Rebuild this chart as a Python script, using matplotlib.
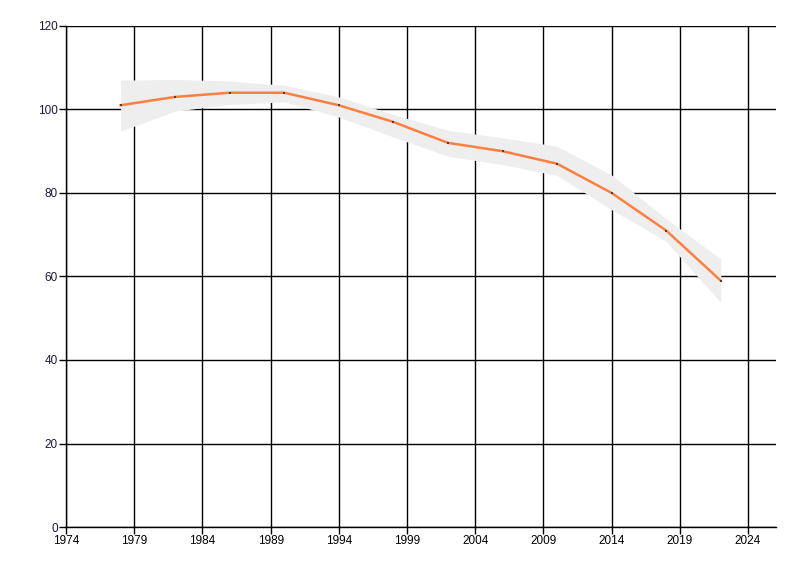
import matplotlib
matplotlib.use("Agg")
import matplotlib.pyplot as plt
import numpy as np

# data
years = [1978, 1982, 1986, 1990, 1994, 1998, 2002, 2006, 2010, 2014, 2018, 2022]
values = [101, 103, 104, 104, 101, 97, 92, 90, 87, 80, 71, 59]
band_upper = [107, 107.2, 106.8, 105.8, 103, 98.8, 95, 93.2, 91.2, 84.3, 73.8, 64.2]
band_lower = [94.8, 99.6, 101.2, 101.8, 98.2, 93.4, 88.8, 86.8, 84.2, 76, 68.4, 53.8]
x_ticks = [1974, 1979, 1984, 1989, 1994, 1999, 2004, 2009, 2014, 2019, 2024]
y_ticks = [0, 20, 40, 60, 80, 100, 120]

plt.rcParams['font.family'] = ['Liberation Sans', 'DejaVu Sans']

fig = plt.figure(figsize=(8, 5.76), dpi=100)
ax = fig.add_axes([0.0825, 0.085, 0.8875, 0.87])

ax.set_xlim(1974, 2026.05)
ax.set_ylim(0, 120)
ax.set_xticks(x_ticks)
ax.set_yticks(y_ticks)

# grid below the band
for xt in x_ticks:
    ax.axvline(xt, color='black', lw=1, zorder=1)
for yt in y_ticks:
    ax.axhline(yt, color='black', lw=1, zorder=1)

ax.fill_between(years, band_lower, band_upper, color='#eeeeee', lw=0, zorder=2)
ax.plot(years, values, color='#ff7f3f', lw=1.8, zorder=3)
ax.plot(years, values, ls='none', marker='s', ms=1.5, mew=0, color='#444444', zorder=4)

for s in ['top', 'right']:
    ax.spines[s].set_visible(False)
ax.spines['left'].set_linewidth(1)
ax.spines['bottom'].set_linewidth(1)
ax.tick_params(axis='both', length=5, width=1, labelsize=8.5, colors='black', pad=1)
ax.tick_params(axis='y', labelcolor='#1a1a3a')

fig.savefig("out.png", dpi=100)
